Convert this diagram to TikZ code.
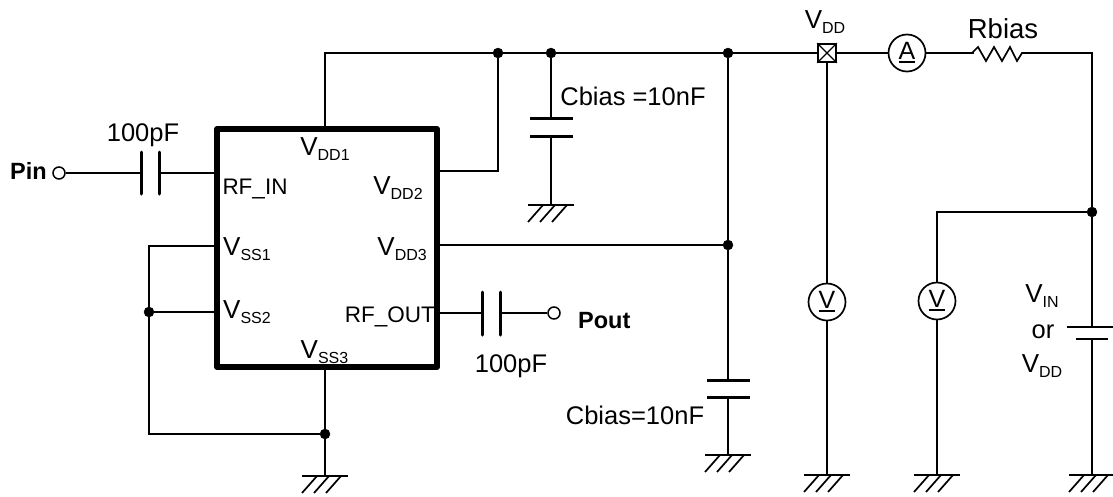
\documentclass[tikz,border=0pt]{standalone}
\usepackage{fontspec}
\setmainfont{Liberation Sans}
\newcommand{\fsz}[1]{\fontsize{#1}{#1}\selectfont}
\newcommand{\Vsub}[1]{V\raisebox{-0.2em}{\fsz{16}#1}}
\newcommand{\meterlab}[1]{\fsz{25}\vbox{\hbox{#1}\kern1.5pt\hrule height 2pt\relax}}
\tikzset{
  wire/.style={line width=1.7pt},
  chip/.style={draw,line width=6pt,line join=round,minimum width=220pt,minimum height=238pt,inner sep=0pt},
  junction/.style={circle,fill=black,draw=black,minimum size=10pt,inner sep=0pt},
  terminal/.style={circle,draw,fill=white,line width=1.5pt,minimum size=12pt,inner sep=0pt},
  meter/.style={circle,draw,fill=white,line width=1.7pt,minimum size=37pt,inner sep=0pt},
  plate/.style={line width=3pt},
  lab/.style={inner sep=0pt,font=\fsz{22.5}},
  vlab/.style={inner sep=0pt,font=\fsz{26}},
  biglab/.style={inner sep=0pt,font=\fsz{25.5}},
  boldlab/.style={inner sep=0pt,font=\fsz{23.5}\bfseries},
  gnd/.pic={
    \draw[line width=1.7pt] (-23,0) -- (23,0);
    \draw[line width=1.7pt] (-8,0) -- (-23,17) (4,0) -- (-11,17) (16,0) -- (1,17);
  }
}
\begin{document}
\begin{tikzpicture}[x=1pt,y=-1pt]
\useasboundingbox (0,0) rectangle (1113,496);
% nodes
\node[chip] (ic) at (327,248) {};
\coordinate (vdd1pin) at (325,129);
\coordinate (vdd2pin) at (437,171);
\coordinate (vdd3pin) at (437,245);
\coordinate (rfinpin) at (217,173);
\coordinate (rfoutpin) at (437,313);
\coordinate (vss1pin) at (217,246);
\coordinate (vss2pin) at (217,312);
\coordinate (vss3pin) at (325,367);
\coordinate (c1) at (325,53);
\coordinate (c2) at (498,171);
\coordinate (tr) at (1092,53);
\coordinate (l1) at (149,246);
\coordinate (l2) at (149,434);
\coordinate (m1) at (937,212);
\node[junction] (j1) at (498,53) {};
\node[junction] (j2) at (551,53) {};
\node[junction] (j3) at (728,53) {};
\node[junction] (j4) at (728,245) {};
\node[junction] (j5) at (1092,212) {};
\node[junction] (j6) at (149,312) {};
\node[junction] (j7) at (325,434) {};
\node[terminal] (pin) at (59,173) {};
\node[terminal] (pout) at (554,313) {};
\coordinate (g1) at (325,476);
\coordinate (g2) at (551,205);
\coordinate (g3) at (728,455);
\coordinate (g4) at (827,475);
\coordinate (g5) at (937,475);
\coordinate (g6) at (1092,475);
% capacitors
\coordinate (ca1) at (141,173); \coordinate (ca2) at (159,173);
\coordinate (cb1) at (482,313); \coordinate (cb2) at (500,313);
\coordinate (cc1) at (551,118); \coordinate (cc2) at (551,136);
\coordinate (cd1) at (728,380); \coordinate (cd2) at (728,397);
\coordinate (ce1) at (1092,327); \coordinate (ce2) at (1092,339);
% wires
\draw[wire] (vdd1pin) -- (c1) -- (j1) -- (j2) -- (j3) -- (tr) -- (j5) -- (ce1);
\draw[wire] (vdd2pin) -- (c2) -- (j1);
\draw[wire] (j2) -- (cc1) (cc2) -- (g2);
\draw[wire] (j3) -- (j4) -- (cd1) (cd2) -- (g3);
\draw[wire] (vdd3pin) -- (j4);
\draw[wire] (pin) -- (ca1) (ca2) -- (rfinpin);
\draw[wire] (rfoutpin) -- (cb1) (cb2) -- (pout);
\draw[wire] (vss1pin) -- (l1) -- (j6) -- (l2) -- (j7);
\draw[wire] (j6) -- (vss2pin);
\draw[wire] (vss3pin) -- (j7) -- (g1);
\draw[wire] (j5) -- (m1) -- (g5);
\draw[wire] (ce2) -- (g6);
% plates
\draw[plate,line cap=round] (141,152) -- (141,194) (159,152) -- (159,194);
\draw[plate,line cap=round] (482,292) -- (482,335) (500,292) -- (500,335);
\draw[plate] (530,118) -- (573,118) (530,136) -- (573,136);
\draw[plate] (707,380) -- (750,380) (707,397) -- (750,397);
\draw[line width=2.2pt] (1067,327) -- (1113,327) (1076,339) -- (1108,339);
% VDD probe
\node[draw,fill=white,line width=1.7pt,minimum size=18pt,inner sep=0pt] (vddbox) at (827,53) {};
\draw[line width=1.3pt] (vddbox.north west) -- (vddbox.south east) (vddbox.north east) -- (vddbox.south west);
\draw[wire] (vddbox) -- (g4);
\node[meter] (amm) at (907,53) {\meterlab{A}};
\node[meter] (v1) at (827,302) {\meterlab{V}};
\node[meter] (v2) at (937,301) {\meterlab{V}};
% resistor
\draw[draw=white,line width=4pt] (974,53) -- (1026,53);
\draw[wire,line join=miter] (972,53) -- (978,47) -- (986,61) -- (994,47) -- (1002,61) -- (1010,47) -- (1017,61) -- (1022,53) -- (1027,53);
% grounds
\pic at (g1) {gnd};
\pic at (g2) {gnd};
\pic at (g3) {gnd};
\pic at (g4) {gnd};
\pic at (g5) {gnd};
\pic at (g6) {gnd};
% labels
\node[boldlab,anchor=base east] (tpin) at (47,179) {Pin};
\node[boldlab,anchor=base west] (tpout) at (578,328) {Pout};
\node[biglab,anchor=base] (t100a) at (143,141.5) {100pF};
\node[biglab,anchor=base] (t100b) at (511,372) {100pF};
\node[vlab,anchor=base] (tvdd1) at (325,155) {\Vsub{DD1}};
\node[vlab,anchor=base] (tvdd2) at (398,194) {\Vsub{DD2}};
\node[vlab,anchor=base east] (tvdd3) at (427,255) {\Vsub{DD3}};
\node[lab,anchor=base] (trfin) at (255,194) {RF\_IN};
\node[lab,anchor=base east] (trfout) at (435,322) {RF\_OUT};
\node[vlab,anchor=base west] (tvss1) at (223,255) {\Vsub{SS1}};
\node[vlab,anchor=base west] (tvss2) at (223,318) {\Vsub{SS2}};
\node[vlab,anchor=base] (tvss3) at (324.5,358) {\Vsub{SS3}};
\node[biglab,anchor=base] (tcb1) at (633,105) {Cbias =10nF};
\node[biglab,anchor=base] (tcb2) at (635,424) {Cbias=10nF};
\node[vlab,anchor=base] (tvdd) at (825,28) {\Vsub{DD}};
\node[biglab,font=\fsz{27.5},anchor=base] (trb) at (1003,38) {Rbias};
\node[vlab,anchor=base] (tvin) at (1042,302) {\Vsub{IN}};
\node[biglab,anchor=base] (tor) at (1043,338) {or};
\node[vlab,anchor=base] (tvdd4) at (1042,372) {\Vsub{DD}};
\end{tikzpicture}
\end{document}
